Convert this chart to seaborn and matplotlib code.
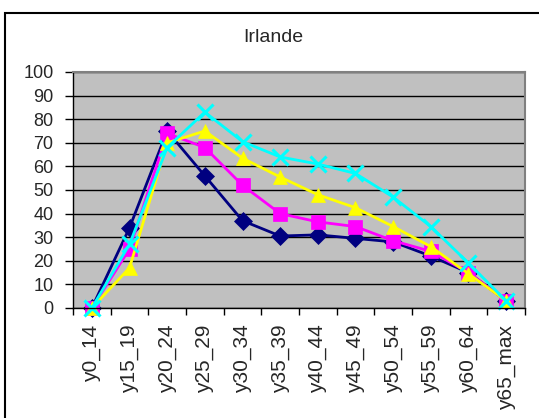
import seaborn as sns
import matplotlib.pyplot as plt
import pandas as pd
from matplotlib.patches import Rectangle

# DATA
age_groups = ['y0_14', 'y15_19', 'y20_24', 'y25_29', 'y30_34', 'y35_39',
              'y40_44', 'y45_49', 'y50_54', 'y55_59', 'y60_64', 'y65_max']
serie_1 = [0, 34, 75, 56, 37, 30.5, 31, 29.5, 28, 22, 15, 3]
serie_2 = [0, 25, 74, 68, 52, 40, 36.5, 34.5, 28.5, 24, 15, 3]
serie_3 = [0, 17, 70, 75, 63.5, 55.5, 48, 42.5, 34.5, 26, 14.5, 3]
serie_4 = [0, 27, 68, 83, 70.5, 64, 61, 57, 47, 34.5, 19, 3]
series_names = ['s1', 's2', 's3', 's4']

df = pd.concat([pd.DataFrame({'age': age_groups, 'value': v, 'serie': n})
                for n, v in zip(series_names, [serie_1, serie_2, serie_3, serie_4])])

palette = {'s1': '#000080', 's2': '#FF00FF', 's3': '#FFFF00', 's4': '#00FFFF'}
markers = {'s1': 'D', 's2': 's', 's3': '^', 's4': 'x'}
msizes = {'s1': 9, 's2': 10, 's3': 10.5, 's4': 11}

sns.set_style('white')
plt.rcParams['font.family'] = ['Liberation Sans', 'DejaVu Sans']

fig = plt.figure(figsize=(5.39, 4.18), dpi=100)
ax = fig.add_axes([73 / 539, 1 - 308 / 418, 452 / 539, 236 / 418])

for n in series_names:
    sub = df[df['serie'] == n]
    sns.lineplot(data=sub, x='age', y='value', ax=ax, color=palette[n],
                 linewidth=2, marker=markers[n], markersize=msizes[n],
                 markeredgewidth=2.2 if n == 's4' else 0.5,
                 markeredgecolor=palette[n], clip_on=False, legend=False)

ax.set_facecolor('#C0C0C0')
ax.set_ylim(0, 100)
ax.set_xlim(-0.5, len(age_groups) - 0.5)
ax.set_yticks(range(0, 101, 10))
ax.yaxis.grid(True, color='black', linewidth=1)
ax.set_axisbelow(True)
ax.set_xlabel('')
ax.set_ylabel('')
ax.set_xticks(range(len(age_groups)))
ax.set_xticklabels(age_groups, rotation=90, fontsize=15)
ax.set_xticks([i - 0.5 for i in range(len(age_groups) + 1)], minor=True)
ax.tick_params(axis='x', which='major', length=0, pad=12)
ax.tick_params(axis='x', which='minor', length=5, width=1, color='black', direction='out')
ax.tick_params(axis='y', length=6, width=1, color='black', direction='out', labelsize=13, pad=8)
ax.tick_params(left=True, bottom=True)
ax.xaxis.set_tick_params(which='minor', bottom=True)
for s in ['left', 'bottom']:
    ax.spines[s].set_color('black')
    ax.spines[s].set_linewidth(1)
for s in ['top', 'right']:
    ax.spines[s].set_color('#808080')
    ax.spines[s].set_linewidth(1.5)

fig.text(273 / 539, 1 - 38 / 418, 'Irlande', ha='center', va='center', fontsize=14)
fig.patches.append(Rectangle((5 / 539, -0.1), 1, 1.1 - 13 / 418, transform=fig.transFigure,
                             fill=False, edgecolor='black', linewidth=1.5))

fig.savefig('out.png', dpi=100)
